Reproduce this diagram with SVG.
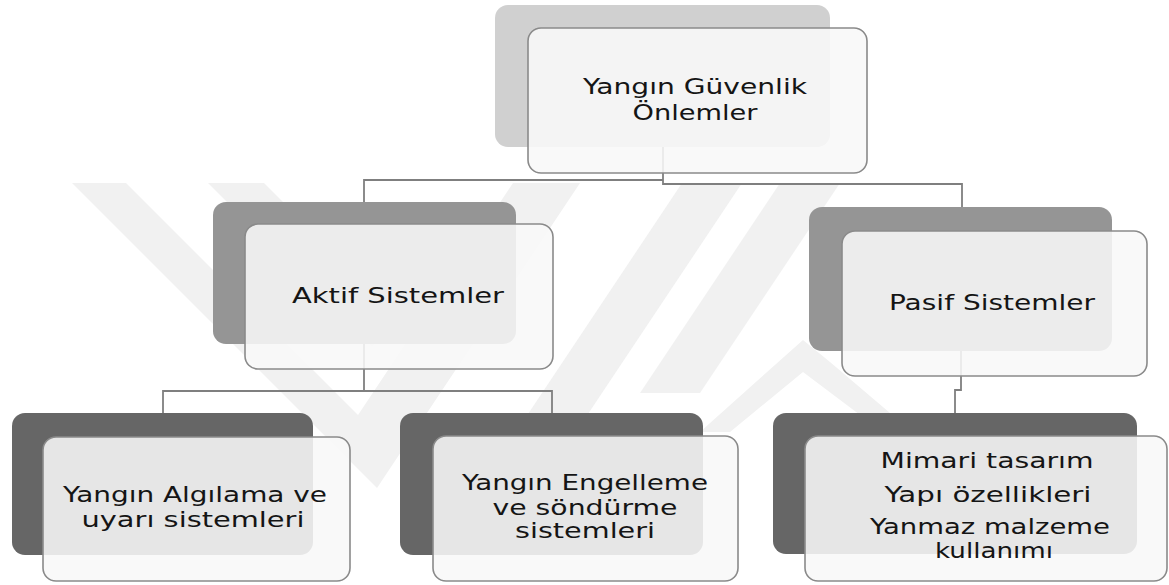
<svg xmlns="http://www.w3.org/2000/svg" width="1169" height="585" viewBox="0 0 1169 585">
  <style>
    .wm { fill: #f1f1f1; }
    .back1 { fill: #d0d0d0; }
    .back2 { fill: #959595; }
    .back3 { fill: #666666; }
    .front { fill: #f8f8f8; fill-opacity: 0.88; stroke: #8a8a8a; stroke-width: 1.6; }
    .conn { fill: none; stroke: #7f7f7f; stroke-width: 1.8; }
    .t { font-family: "DejaVu Sans", "Open Sans", sans-serif; fill: #151515; text-anchor: middle; }
    .t24 { font-size: 21px; }
    .t22 { font-size: 22px; }
  </style>
  <rect width="1169" height="585" fill="#ffffff"/>
  <g id="watermark">
    <polygon class="wm" points="72,183 126,183 358,415 513,183 580,183 377,488"/>
    <polygon class="wm" points="208,183 264,183 400,319 372,347"/>
    <polygon class="wm" points="682,183 742,183 580,426 520,426"/>
    <polygon class="wm" points="780,183 840,183 700,393 640,393"/>
    <polygon class="wm" points="803,340 830,362 910,430 880,430 803,372 730,432 700,432"/>
  </g>
  <g id="connectors">
    <path class="conn" d="M663,147 V184 H962 V208"/>
    <path class="conn" d="M663,180 H364 V202"/>
    <path class="conn" d="M364,344 V391"/>
    <path class="conn" d="M163,413 V391 H552 V413"/>
    <path class="conn" d="M961,351 V390 H955 V413"/>
  </g>
  <g id="node-top">
    <rect class="back1" x="495" y="5" width="335" height="142" rx="13"/>
    <rect class="front" x="528" y="28" width="339" height="145" rx="13"/>
    <text class="t t24" x="695" y="94" textLength="224" lengthAdjust="spacingAndGlyphs">Yangın Güvenlik</text>
    <text class="t t24" x="695" y="120" textLength="125" lengthAdjust="spacingAndGlyphs">Önlemler</text>
  </g>
  <g id="node-aktif">
    <rect class="back2" x="213" y="202" width="303" height="142" rx="13"/>
    <rect class="front" x="245" y="224" width="308" height="145" rx="13"/>
    <text class="t t22" x="398" y="303" textLength="212" lengthAdjust="spacingAndGlyphs">Aktif Sistemler</text>
  </g>
  <g id="node-pasif">
    <rect class="back2" x="809" y="207" width="303" height="144" rx="13"/>
    <rect class="front" x="842" y="231" width="305" height="145" rx="13"/>
    <text class="t t22" x="992" y="310" textLength="206" lengthAdjust="spacingAndGlyphs">Pasif Sistemler</text>
  </g>
  <g id="node-algilama">
    <rect class="back3" x="12" y="413" width="301" height="142" rx="13"/>
    <rect class="front" x="43" y="437" width="307" height="144" rx="13"/>
    <text class="t t22" x="195" y="502" textLength="264" lengthAdjust="spacingAndGlyphs">Yangın Algılama ve</text>
    <text class="t t22" x="193" y="527" textLength="223" lengthAdjust="spacingAndGlyphs">uyarı sistemleri</text>
  </g>
  <g id="node-engelleme">
    <rect class="back3" x="400" y="413" width="303" height="142" rx="13"/>
    <rect class="front" x="433" y="436" width="305" height="145" rx="13"/>
    <text class="t t22" x="585" y="490" textLength="246" lengthAdjust="spacingAndGlyphs">Yangın Engelleme</text>
    <text class="t t22" x="585" y="515" textLength="185" lengthAdjust="spacingAndGlyphs">ve söndürme</text>
    <text class="t t22" x="585" y="538" textLength="140" lengthAdjust="spacingAndGlyphs">sistemleri</text>
  </g>
  <g id="node-pasif-detay">
    <rect class="back3" x="773" y="413" width="364" height="141" rx="13"/>
    <rect class="front" x="805" y="436" width="362" height="145" rx="13"/>
    <text class="t t22" x="987" y="468" textLength="213" lengthAdjust="spacingAndGlyphs">Mimari tasarım</text>
    <text class="t t22" x="988" y="502" textLength="207" lengthAdjust="spacingAndGlyphs">Yapı özellikleri</text>
    <text class="t t22" x="990" y="534" textLength="240" lengthAdjust="spacingAndGlyphs">Yanmaz malzeme</text>
    <text class="t t22" x="994" y="558" textLength="118" lengthAdjust="spacingAndGlyphs">kullanımı</text>
  </g>
</svg>
